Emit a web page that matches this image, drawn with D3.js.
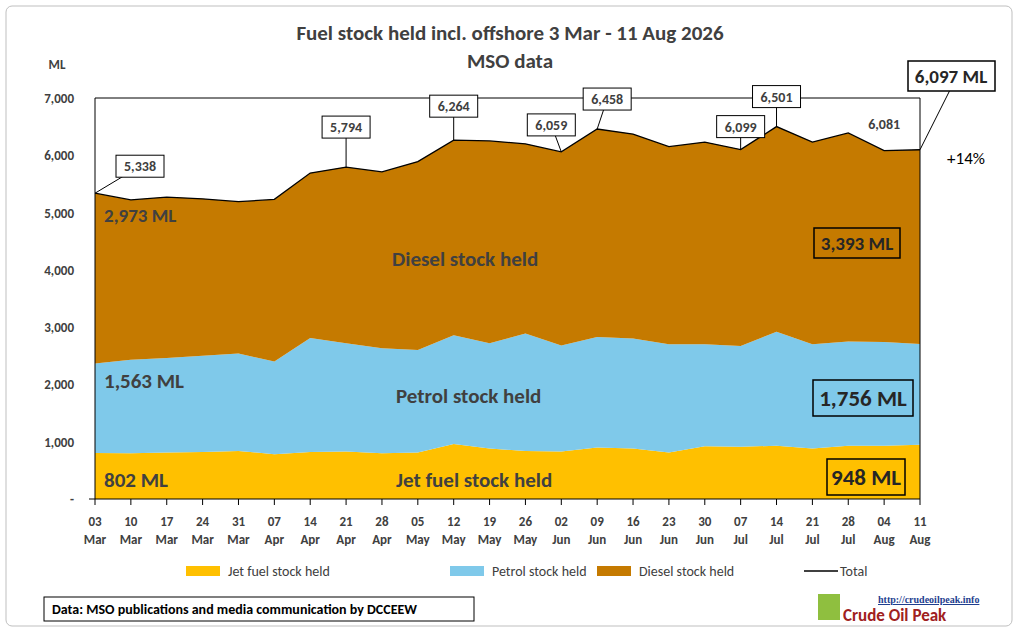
<!DOCTYPE html>
<html><head><meta charset="utf-8">
<script src="https://cdn.jsdelivr.net/npm/d3@7"></script>
<style>body{margin:0;background:#fff}svg{font-family:Calibri,Carlito,"Liberation Sans",Arial,sans-serif}</style>
</head><body><svg id="chart" width="1020" height="635"></svg>
<script>
const dates = ["03 Mar","10 Mar","17 Mar","24 Mar","31 Mar","07 Apr","14 Apr","21 Apr","28 Apr","05 May","12 May","19 May","26 May","02 Jun","09 Jun","16 Jun","23 Jun","30 Jun","07 Jul","14 Jul","21 Jul","28 Jul","04 Aug","11 Aug"];
const jet = [802,800,810,820,840,780,820,830,800,810,960,880,840,830,900,880,810,920,910,930,880,930,930,948];
const petrol = [1563,1630,1650,1680,1700,1620,1990,1890,1830,1790,1900,1840,2050,1850,1930,1920,1890,1780,1760,1990,1820,1820,1810,1756];
const diesel = [2973,2790,2810,2740,2650,2830,2880,3074,3080,3290,3404,3530,3310,3379,3628,3570,3450,3530,3429,3581,3530,3640,3341,3393];
const yTicks = [0,1000,2000,3000,4000,5000,6000,7000];
// labelled total points: index, label offset, boxed
const totalLabels = [
  {i:0, dx:45, dy:-27, box:true},
  {i:7, dx:0, dy:-40, box:true},
  {i:10, dx:0, dy:-34, box:true},
  {i:13, dx:-10, dy:-27, box:true},
  {i:14, dx:10, dy:-30, box:true},
  {i:18, dx:0, dy:-23, box:true},
  {i:19, dx:0, dy:-30, box:true},
  {i:22, dx:0, dy:-27, box:false}
];

const svg = d3.select("#chart");
const x0 = 95, x1 = 920, yTop = 98, yBot = 499;
const rows = dates.map((d,i)=>({i, jet:jet[i], petrol:petrol[i], diesel:diesel[i]}));
const totals = rows.map(r=>r.jet+r.petrol+r.diesel);

const x = d3.scaleLinear().domain([0,dates.length-1]).range([x0,x1]);
const y = d3.scaleLinear().domain([0,7000]).range([yBot,yTop]);

svg.append("rect").attr("x",6).attr("y",6).attr("width",1006).attr("height",620)
  .attr("rx",6).attr("fill","#fff").attr("stroke","#bfbfbf");

svg.append("text").attr("x",510).attr("y",40).attr("text-anchor","middle")
  .attr("font-size",21).attr("font-weight","bold").attr("fill","#404040")
  .text("Fuel stock held incl. offshore 3 Mar - 11 Aug 2026");
svg.append("text").attr("x",510).attr("y",68).attr("text-anchor","middle")
  .attr("font-size",21).attr("font-weight","bold").attr("fill","#404040").text("MSO data");
svg.append("text").attr("x",57).attr("y",69).attr("text-anchor","middle")
  .attr("font-size",13).attr("font-weight","bold").attr("fill","#404040").text("ML");

const keys = ["jet","petrol","diesel"];
const colors = {jet:"#FFC000", petrol:"#7FC9EA", diesel:"#C57A00"};
const series = d3.stack().keys(keys)(rows);
const area = d3.area().x((d,i)=>x(i)).y0(d=>y(d[0])).y1(d=>y(d[1]));
svg.append("g").selectAll("path").data(series).enter().append("path")
  .attr("fill",d=>colors[d.key]).attr("d",area);

svg.append("path").datum(totals).attr("fill","none").attr("stroke","#000").attr("stroke-width",1.3)
  .attr("d",d3.line().x((d,i)=>x(i)).y(d=>y(d)));

// axes
svg.append("line").attr("x1",x0).attr("x2",x0).attr("y1",yTop).attr("y2",yBot).attr("stroke","#000");
svg.append("line").attr("x1",x0).attr("x2",x1).attr("y1",yTop).attr("y2",yTop).attr("stroke","#000");
svg.append("line").attr("x1",x1).attr("x2",x1).attr("y1",yTop).attr("y2",yBot).attr("stroke","#000");
svg.append("line").attr("x1",x0-6).attr("x2",x1).attr("y1",yBot).attr("y2",yBot).attr("stroke","#000");
svg.append("g").selectAll("text").data(yTicks).enter().append("text")
  .attr("x",x0-21).attr("y",d=>y(d)+5).attr("text-anchor","end")
  .attr("font-size",13).attr("font-weight","bold").attr("fill","#404040")
  .text(d=>d===0?"-":d3.format(",")(d));
const xt = svg.append("g").selectAll("g").data(dates).enter().append("g");
xt.append("line").attr("x1",(d,i)=>x(i)).attr("x2",(d,i)=>x(i)).attr("y1",yBot).attr("y2",yBot+6).attr("stroke","#000");
xt.append("text").attr("x",(d,i)=>x(i)).attr("y",526).attr("text-anchor","middle")
  .attr("font-size",13).attr("font-weight","bold").attr("fill","#404040").text(d=>d.split(" ")[0]);
xt.append("text").attr("x",(d,i)=>x(i)).attr("y",544).attr("text-anchor","middle")
  .attr("font-size",13).attr("font-weight","bold").attr("fill","#404040").text(d=>d.split(" ")[1]);

// total labels
const fmt = d3.format(",");
totalLabels.forEach(l=>{
  const px = x(l.i), py = y(totals[l.i]);
  const lx = px + l.dx, ly = py + l.dy;
  if (l.box) svg.append("line").attr("x1",px).attr("y1",py).attr("x2",lx).attr("y2",ly).attr("stroke","#000");
  const t = fmt(totals[l.i]);
  if (l.box) svg.append("rect").attr("x",lx-24).attr("y",ly-11).attr("width",48).attr("height",22)
    .attr("fill","#fff").attr("stroke","#000");
  svg.append("text").attr("x",lx).attr("y",ly+5).attr("text-anchor","middle")
    .attr("font-size",14).attr("font-weight","bold").attr("fill","#404040").text(t);
});
// last total
const last = dates.length-1;
svg.append("line").attr("x1",x(last)).attr("y1",y(totals[last])).attr("x2",950).attr("y2",90).attr("stroke","#000");
svg.append("rect").attr("x",908).attr("y",61).attr("width",87).attr("height",30).attr("fill","#fff").attr("stroke","#000").attr("stroke-width",1.5);
svg.append("text").attr("x",951).attr("y",83).attr("text-anchor","middle").attr("font-size",19)
  .attr("font-weight","bold").attr("fill","#262626").text(fmt(totals[last])+" ML");
svg.append("text").attr("x",966).attr("y",164).attr("text-anchor","middle").attr("font-size",17)
  .attr("fill","#000").text("+"+Math.round((totals[last]/totals[0]-1)*100)+"%");

// stock labels
const big = (t,xx,yy,fs,col)=>svg.append("text").attr("x",xx).attr("y",yy).attr("font-size",fs)
  .attr("font-weight","bold").attr("fill",col||"#404040").text(t);
big(fmt(diesel[0])+" ML",104,222,19);
big(fmt(petrol[0])+" ML",104,388,21);
big(fmt(jet[0])+" ML",104,487,21);
big("Diesel stock held",392,266,21);
big("Petrol stock held",396,403,21);
big("Jet fuel stock held",396,487,21);
const boxed = (t,cx,cy,w,h,fs)=>{
  svg.append("rect").attr("x",cx-w/2).attr("y",cy-h/2).attr("width",w).attr("height",h)
    .attr("fill","none").attr("stroke","#000").attr("stroke-width",1.5);
  svg.append("text").attr("x",cx).attr("y",cy+fs*0.36).attr("text-anchor","middle")
    .attr("font-size",fs).attr("font-weight","bold").attr("fill","#262626").text(t);
};
boxed(fmt(diesel[last])+" ML",857,243,86,30,19);
boxed(fmt(petrol[last])+" ML",863,398,100,36,23);
boxed(jet[last]+" ML",866,477,78,36,23);

// legend
const leg = [["Jet fuel stock held","jet",186],["Petrol stock held","petrol",450],["Diesel stock held","diesel",597]];
leg.forEach(([t,k,lx])=>{
  svg.append("rect").attr("x",lx).attr("y",566).attr("width",34).attr("height",10).attr("fill",colors[k]);
  svg.append("text").attr("x",lx+42).attr("y",576).attr("font-size",14).attr("fill","#404040").text(t);
});
svg.append("line").attr("x1",804).attr("x2",838).attr("y1",571).attr("y2",571).attr("stroke","#000").attr("stroke-width",1.3);
svg.append("text").attr("x",840).attr("y",576).attr("font-size",14).attr("fill","#404040").text("Total");

// source
svg.append("rect").attr("x",44).attr("y",597).attr("width",430).attr("height",24).attr("fill","#fff").attr("stroke","#000");
svg.append("text").attr("x",52).attr("y",614).attr("font-size",14).attr("font-weight","bold").attr("fill","#000")
  .text("Data: MSO publications and media communication by DCCEEW");
// logo
svg.append("rect").attr("x",818).attr("y",594).attr("width",22).attr("height",26).attr("fill","#8fbf3f");
svg.append("text").attr("x",878).attr("y",603).attr("font-size",10).attr("font-weight","bold")
  .attr("font-family","Liberation Serif,serif").attr("fill","#1f3f8f").attr("text-decoration","underline").text("http://crudeoilpeak.info");
svg.append("text").attr("x",843).attr("y",621).attr("font-size",17).attr("font-weight","bold").attr("fill","#a02020").text("Crude Oil Peak");
</script></body></html>
